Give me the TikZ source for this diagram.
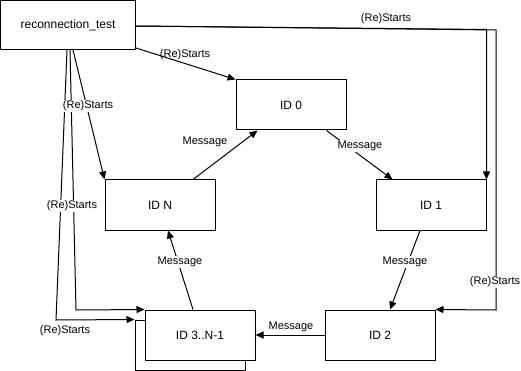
\documentclass[tikz,border=0pt]{standalone}
\usepackage{fontspec}
\setmainfont{Liberation Sans}
\usetikzlibrary{arrows.meta,calc}
\begin{document}
\begin{tikzpicture}[x=1pt,y=-1pt,
  box/.style={draw=black, fill=white, line width=1pt, minimum width=110pt,
    minimum height=50pt, inner sep=0pt, font=\fontsize{12}{14}\selectfont},
  conn/.style={draw=black, line width=1pt, -{Triangle[length=8pt,width=7pt]}},
  lbl/.style={fill=white, inner sep=0.6pt, font=\fontsize{11}{13}\selectfont},
  freelbl/.style={inner sep=0.6pt, font=\fontsize{11}{13}\selectfont}]
\useasboundingbox (0,0) rectangle (521,371);

% processes
\node[box, minimum width=135pt, minimum height=49pt] (rt) at (68,25) {reconnection\_test};
\node[box] (id0) at (291,105) {ID 0};
\node[box] (idN) at (160,205) {ID N};
\node[box] (id1) at (431,205) {ID 1};
\node[box] (id2) at (380,335) {ID 2};
% stacked box for the group of middle processes
\node[box] (id3b) at (190,345) {};
\node[box] (id3) at (200,335) {ID 3..N-1};

% bend points of the routed connectors
\coordinate (b1) at ($(id1.north east)+(0,-150)$);
\coordinate (b2) at (496,30);
\coordinate (b3) at (496,310);
\coordinate (b4) at (76,310);
\coordinate (b5) at (56,320);

% (Re)Starts connectors from the test driver
\draw[conn] ($(rt.south east)+(0,-2)$) -- (id0.north west);
\draw[conn] ($(rt.east)+(0,1)$) -- (b1) -- (id1.north east);
\draw[conn] ($(rt.east)+(0,1)$) -- (b2) -- (b3) -- (id2.north east);
\draw[conn] ($(rt.south)+(5,0)$) -- (idN.north west);
\draw[conn] ($(rt.south)+(2,0)$) -- (b4) -- (id3.north west);
\draw[conn] ($(rt.south)+(-1,0)$) -- (b5) -- (id3b.north west);

% Message ring
\draw[conn] ($(idN.north)+(33,0)$) -- ($(id0.south west)+(22,0)$);
\draw[conn] ($(id0.south east)+(-20,0)$) -- ($(id1.north west)+(17,0)$);
\draw[conn] ($(id1.south)+(-11,0)$) -- ($(id2.north)+(10,0)$);
\draw[conn] (id2.west) -- (id3.east);
\draw[conn] ($(id3.north)+(-7,0)$) -- ($(idN.south)+(8,0)$);

% labels
\node[freelbl] (l1) at (185,55) {(Re)Starts};
\node[freelbl] (l2) at (386,19) {(Re)Starts};
\node[lbl] (l3) at (495,282) {(Re)Starts};
\node[lbl] (l4) at (88,106) {(Re)Starts};
\node[lbl] (l5) at (72,206) {(Re)Starts};
\node[freelbl] (l6) at (65,331) {(Re)Starts};
\node[freelbl] (m1) at (205,142) {Message};
\node[lbl] (m2) at (360,146) {Message};
\node[lbl] (m3) at (405,262) {Message};
\node[freelbl] (m4) at (291,327) {Message};
\node[lbl] (m5) at (180,262) {Message};
\end{tikzpicture}
\end{document}
